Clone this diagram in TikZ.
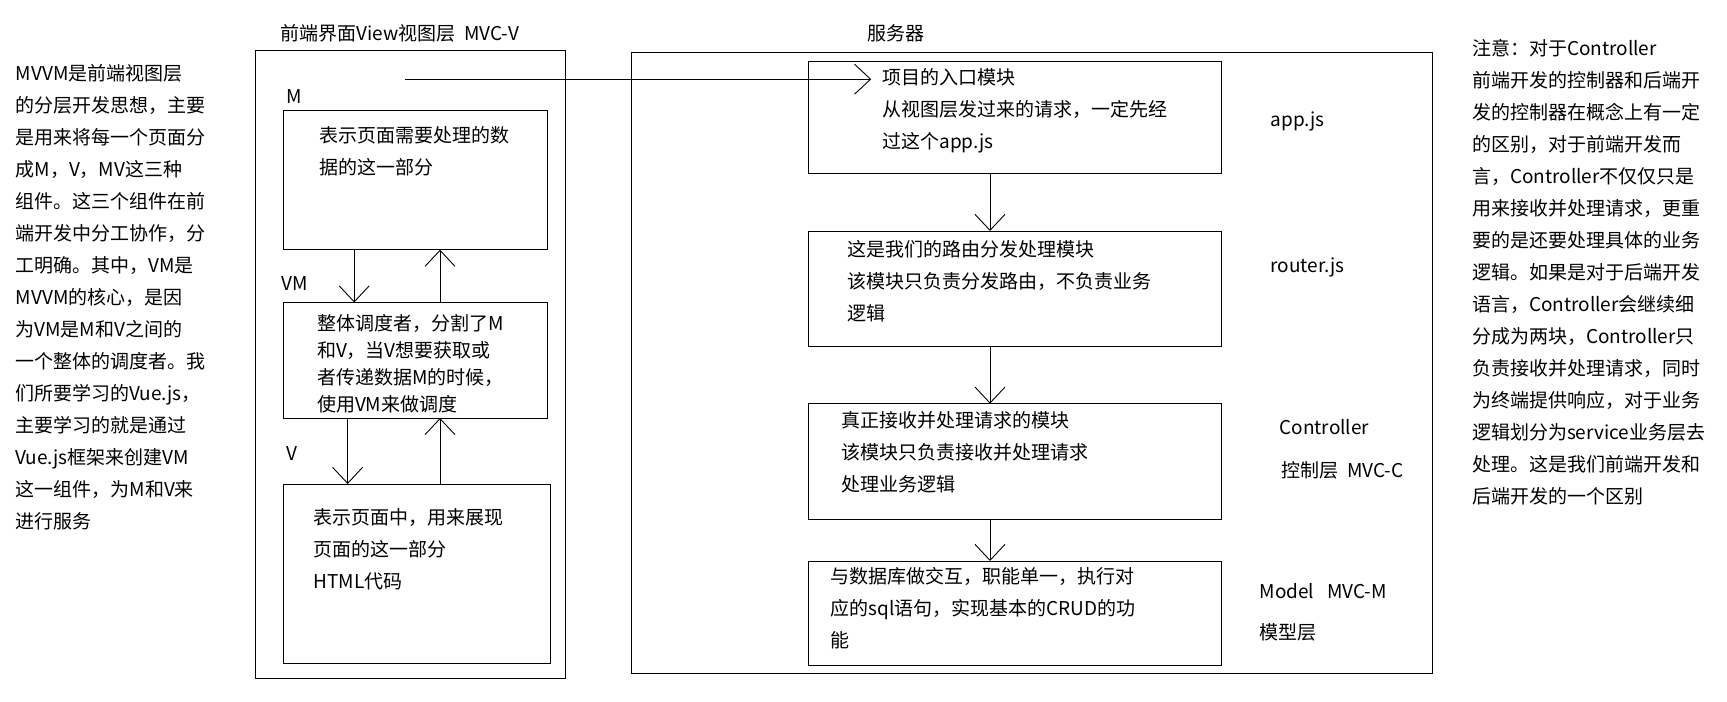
\documentclass[tikz,border=0pt]{standalone}
\usepackage{fontspec}
\setmainfont{Noto Sans CJK SC}
\usetikzlibrary{arrows.meta}
\begin{document}
\begin{tikzpicture}[x=1.1pt,y=-1.1pt,
  box/.style={draw,line width=0.9pt},
  txt/.style={anchor=north west,inner sep=0pt,align=left,font=\fontsize{19}{32}\selectfont},
  tt/.style={anchor=north west,inner sep=0pt,align=left,font=\fontsize{19}{27}\selectfont},
  lbl/.style={anchor=west,inner sep=0pt,font=\fontsize{19}{24}\selectfont},
  arr/.style={line width=0.9pt,-{Straight Barb[length=16pt,width=30pt,line width=0.9pt]}}]
\useasboundingbox (0,0) rectangle (1570,638);
\fill[white] (0,0) rectangle (1570,638);
% left text
\node[txt] (lt) at (14,58) {MVVM是前端视图层\\的分层开发思想，主要\\是用来将每一个页面分\\成M，V，MV这三种\\组件。这三个组件在前\\端开发中分工协作，分\\工明确。其中，VM是\\MVVM的核心，是因\\为VM是M和V之间的\\一个整体的调度者。我\\们所要学习的Vue.js，\\主要学习的就是通过\\Vue.js框架来创建VM\\这一组件，为M和V来\\进行服务};
% right text
\node[txt] (rt) at (1338,36) {注意：对于Controller\\前端开发的控制器和后端开\\发的控制器在概念上有一定\\的区别，对于前端开发而\\言，Controller不仅仅只是\\用来接收并处理请求，更重\\要的是还要处理具体的业务\\逻辑。如果是对于后端开发\\语言，Controller会继续细\\分成为两块，Controller只\\负责接收并处理请求，同时\\为终端提供响应，对于业务\\逻辑划分为service业务层去\\处理。这是我们前端开发和\\后端开发的一个区别};
% front end
\node[lbl] (ft) at (255,30) {前端界面View视图层\ \ MVC-V};
\draw[box] (232,46) rectangle (514,617);
\node[lbl] (ml) at (260,88) {M};
\draw[box] (258,100) rectangle (498,227);
\node[txt] (mt) at (290,115) {表示页面需要处理的数\\据的这一部分};
\node[lbl] (vml) at (256,258) {VM};
\draw[box] (258,275) rectangle (498,380);
\node[tt] (vmt) at (288,286) {整体调度者，分割了M\\和V，当V想要获取或\\者传递数据M的时候，\\使用VM来做调度};
\coordinate (a1s) at (322,227); \coordinate (a1e) at (322,275);
\coordinate (a2s) at (400,275); \coordinate (a2e) at (400,227);
\draw[arr] (a1s) -- (a1e);
\draw[arr] (a2s) -- (a2e);
\node[lbl] (vl) at (260,412) {V};
\draw[box] (258,440) rectangle (500,603);
\node[txt] (vt) at (285,462) {表示页面中，用来展现\\页面的这一部分\\HTML代码};
\coordinate (a3s) at (316,380); \coordinate (a3e) at (316,440);
\coordinate (a4s) at (400,440); \coordinate (a4e) at (400,380);
\draw[arr] (a3s) -- (a3e);
\draw[arr] (a4s) -- (a4e);
% server
\node[lbl] (st) at (788,30) {服务器};
\draw[box] (574,48) rectangle (1302,612);
\draw[box] (735,56) rectangle (1110,158);
\node[txt] (at) at (802,62) {项目的入口模块\\从视图层发过来的请求，一定先经\\过这个app.js};
\node[lbl] (al) at (1155,110) {app.js};
\coordinate (cs) at (368,72); \coordinate (ce) at (792,72);
\draw[arr] (cs) -- (ce);
\draw[box] (735,210) rectangle (1110,315);
\node[txt] (rtt) at (770,218) {这是我们的路由分发处理模块\\该模块只负责分发路由，不负责业务\\逻辑};
\node[lbl] (rl) at (1155,243) {router.js};
\draw[box] (735,367) rectangle (1110,472);
\node[txt] (ctt) at (765,374) {真正接收并处理请求的模块\\该模块只负责接收并处理请求\\处理业务逻辑};
\node[lbl] (cl) at (1163,388) {Controller};
\node[lbl] (cl2) at (1165,428) {控制层\ \ MVC-C};
\draw[box] (735,510) rectangle (1110,605);
\node[txt] (mdt) at (755,516) {与数据库做交互，职能单一，执行对\\应的sql语句，实现基本的CRUD的功\\能};
\node[lbl] (ml1) at (1145,537) {Model\ \ \ MVC-M};
\node[lbl] (ml2) at (1145,575) {模型层};
\coordinate (b1s) at (900,158); \coordinate (b1e) at (900,210);
\coordinate (b2s) at (900,315); \coordinate (b2e) at (900,367);
\coordinate (b3s) at (900,472); \coordinate (b3e) at (900,510);
\draw[arr] (b1s) -- (b1e);
\draw[arr] (b2s) -- (b2e);
\draw[arr] (b3s) -- (b3e);
\end{tikzpicture}
\end{document}
